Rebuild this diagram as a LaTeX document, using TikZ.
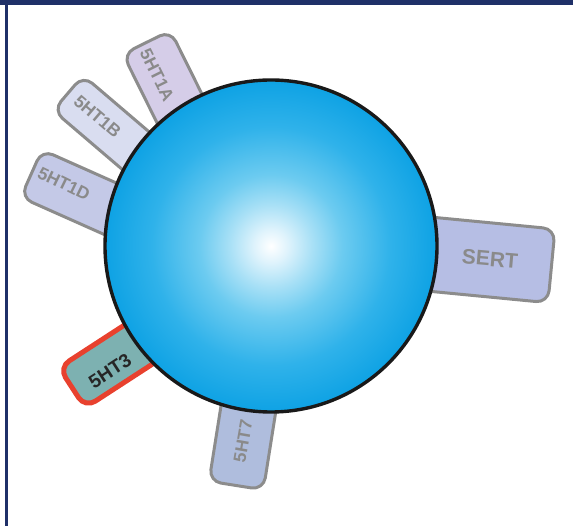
\documentclass[tikz,border=0pt]{standalone}
\usepackage{fontspec}
\newfontfamily\labfont{Liberation Sans}
\definecolor{navy}{HTML}{1F3068}
\definecolor{tabgray}{HTML}{8C8C8C}
\definecolor{txtgray}{HTML}{8A8A8A}
\definecolor{c1A}{HTML}{D5CDE8}
\definecolor{c1B}{HTML}{D9DDF0}
\definecolor{c1D}{HTML}{C4C9E7}
\definecolor{cSERT}{HTML}{B6BEE4}
\definecolor{c7}{HTML}{AFBDDD}
\definecolor{c3}{HTML}{7DB1B1}
\definecolor{c3red}{HTML}{E8412E}
\definecolor{ballA}{HTML}{DFF3FC}
\definecolor{ballB}{HTML}{A8E0F6}
\definecolor{ballC}{HTML}{6CCBF0}
\definecolor{ballD}{HTML}{2FB2EA}
\definecolor{ballE}{HTML}{0EA2E4}
\pgfdeclareradialshading{ball}{\pgfpoint{0bp}{0bp}}{color(0bp)=(white); color(2.5bp)=(ballA); color(6.25bp)=(ballB); color(10.75bp)=(ballC); color(18bp)=(ballD); color(25bp)=(ballE); color(50bp)=(ballE)}
\tikzset{
  tabbox/.style={shape=rectangle, draw=tabgray, line width=3pt, rounded corners=12pt, inner sep=0pt, anchor=east},
  lab/.style={font=\labfont\bfseries\fontsize{17.5}{20}\selectfont, text=txtgray, inner sep=0pt},
  labbold/.style={font=\labfont\bfseries\fontsize{21}{24}\selectfont, text=txtgray, inner sep=0pt},
}
\begin{document}
\begin{tikzpicture}[x=1pt,y=-1pt]
\useasboundingbox (0,0) rectangle (573,526);
% frame
\fill[navy] (0,0) rectangle (573,4.6);
\fill[navy] (5.4,0) rectangle (7.8,526);
% tabs
\node[tabbox, fill=c1D, minimum width=200pt, minimum height=52pt, rotate=156] (t1D) at (30,173) {};
\node[tabbox, fill=c1B, minimum width=200pt, minimum height=46pt, rotate=139.5] (t1B) at (67,92) {};
\node[tabbox, fill=c1A, minimum width=200pt, minimum height=53pt, rotate=116.4] (t1A) at (146,41) {};
\node[tabbox, fill=cSERT, minimum width=200pt, minimum height=74pt, rotate=-5.5] (tSERT) at (553,266) {};
\node[tabbox, fill=c7, minimum width=200pt, minimum height=55pt, rotate=261] (t7) at (236,487) {};
\node[tabbox, fill=c3, draw=c3red, line width=5pt, minimum width=200pt, minimum height=48pt, rotate=213] (t3) at (70,389) {};
% cell body
\node[circle, minimum size=332pt, inner sep=0pt, draw=black!90, line width=3.4pt, shading=ball] (cell) at (271,246) {};
% labels
\node[lab, rotate=-63.6] (l1A) at (157,75) {5HT1A};
\node[lab, rotate=-40.5] (l1B) at (97.5,116.5) {5HT1B};
\node[lab, rotate=-26] (l1D) at (64,184) {5HT1D};
\node[labbold, rotate=-5] (lSERT) at (490,259) {SERT};
\node[lab, rotate=80] (l7) at (243,441) {5HT7};
\node[labbold, text=black!85, font=\labfont\bfseries\fontsize{19}{22}\selectfont, rotate=33] (l3) at (110,371) {5HT3};
\end{tikzpicture}
\end{document}
